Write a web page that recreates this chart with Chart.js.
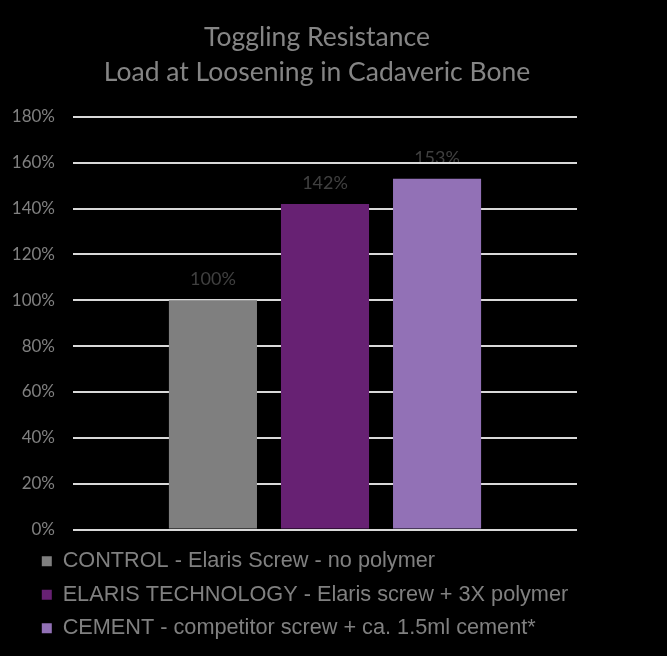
<!DOCTYPE html>
<html>
<head>
<meta charset="utf-8">
<script src="https://cdn.jsdelivr.net/npm/chart.js@4.4.1/dist/chart.umd.min.js"></script>
<style>
    body { margin: 0; background: #000000; }
    #wrap { width: 667px; height: 656px; position: relative; background: #000000; }
</style>
</head>
<body>
<div id="wrap"><canvas id="chart"></canvas></div>
<script>
// Chart data.
var titleLines = ["Toggling Resistance", "Load at Loosening in Cadaveric Bone"];
var seriesNames = [
    "CONTROL - Elaris Screw - no polymer",
    "ELARIS TECHNOLOGY - Elaris screw + 3X polymer",
    "CEMENT - competitor screw + ca. 1.5ml cement*"
];
var seriesValues = [100, 142, 153];
var seriesColors = ["#7f7f7f", "#672173", "#9271b6"];
var yTicks = [0, 20, 40, 60, 80, 100, 120, 140, 160, 180];

function buildDatasets() {
    // One category, one dataset per series so the legend lists each of them.
    var datasets = [];
    for (var i = 0; i < seriesNames.length; ++i) {
        datasets.push({
            label: seriesNames[i],
            data: [seriesValues[i]],
            backgroundColor: seriesColors[i],
            borderWidth: 0,
            categoryPercentage: 0.667,
            barPercentage: 0.786
        });
    }
    return datasets;
}

// Value labels above each bar; drawn before the grid, as in the reference.
var valueLabels = {
    id: "valueLabels",
    beforeDraw: function (chart) {
        var ctx = chart.ctx;
        ctx.save();
        ctx.font = "18px Lato";
        ctx.fillStyle = "#404040";
        ctx.textAlign = "center";
        ctx.textBaseline = "middle";
        chart.data.datasets.forEach(function (ds, i) {
            var meta = chart.getDatasetMeta(i);
            meta.data.forEach(function (bar, j) {
                ctx.fillText(ds.data[j] + "%", bar.x, bar.y - 21);
            });
        });
        ctx.restore();
    }
};

// Place the legend and title blocks where the reference has them.
var blockShift = {
    id: "blockShift",
    afterLayout: function (chart) {
        chart.legend.left = 30;
        chart.titleBlock.left = 0;
        chart.titleBlock.right = 634;
    }
};

new Chart(document.getElementById("chart"), {
    type: "bar",
    data: {
        labels: [""],
        datasets: buildDatasets()
    },
    plugins: [valueLabels, blockShift],
    options: {
        responsive: true,
        maintainAspectRatio: false,
        devicePixelRatio: 1,
        animation: false,
        layout: { padding: { top: 0, right: 90, bottom: 7, left: 0 } },
        plugins: {
            title: {
                display: true,
                text: titleLines,
                color: "#858585",
                font: { family: "Lato", size: 26.5, weight: "normal", lineHeight: 1.32 },
                padding: { top: 20, bottom: 27 }
            },
            legend: {
                display: true,
                position: "bottom",
                align: "start",
                labels: {
                    color: "#808080",
                    font: { family: "'Liberation Sans', Arial", size: 21.7 },
                    boxWidth: 10,
                    boxHeight: 10,
                    padding: 11.8
                }
            },
            tooltip: { enabled: false }
        },
        scales: {
            x: {
                display: true,
                afterFit: function (scale) { scale.height = 9; },
                border: { display: false },
                grid: { display: false },
                ticks: { display: false }
            },
            y: {
                min: 0,
                max: 180,
                afterFit: function (scale) { scale.width = 73; },
                afterBuildTicks: function (scale) {
                    scale.ticks = yTicks.map(function (v) { return { value: v }; });
                },
                border: { display: false },
                grid: { color: "#d9d9d9", lineWidth: 2, drawTicks: false },
                ticks: {
                    color: "#808080",
                    font: { family: "Lato", size: 17 },
                    padding: 18,
                    callback: function (v) { return v + "%"; }
                }
            }
        }
    }
});
</script>
</body>
</html>
